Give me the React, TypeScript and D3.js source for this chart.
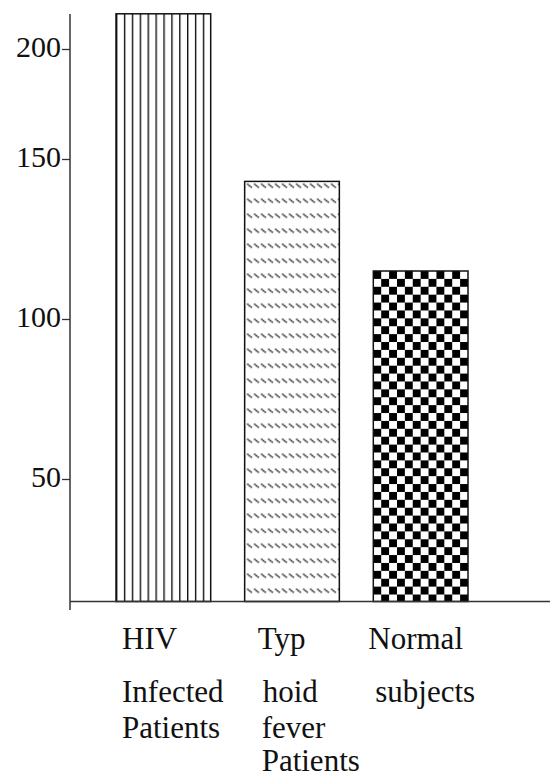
import React, { useEffect, useRef } from 'react';
import * as d3 from 'd3';

// ─── Data ───────────────────────────────────────────────────────────────────
const categories = ['HIV', 'Typhoid', 'Normal'];
const values = [216, 143, 115];
const tickValues = [50, 100, 150, 200];
const labelLines = [
    ['HIV', 'Infected', 'Patients'],
    ['Typ', 'hoid', 'fever', 'Patients'],
    ['Normal', 'subjects'],
];

// ─── Layout ─────────────────────────────────────────────────────────────────
const W = 550;
const H = 778;
const axisX = 70;
const baseY = 601.5;
const FONT = '"Liberation Serif", "Times New Roman", serif';
const lineBaselines = [649, 702, 738, 771];
const labelDx = [
    [6, 6, 6],
    [13, 18, 17, 17],
    [-5, 2],
];

const App: React.FC = () => {
    const ref = useRef<SVGSVGElement | null>(null);

    useEffect(() => {
        if (!ref.current) return;
        const svg = d3.select(ref.current);
        svg.selectAll('*').remove();

        // the printed scale is uneven: 50→150 is wider per unit than 150→200
        const y = d3.scaleLinear()
            .domain([0, 50, 150, 200])
            .range([baseY, 479, 159, 49]);

        const x = d3.scaleBand<string>()
            .domain(categories)
            .range([116, 468])
            .paddingInner(0.264)
            .paddingOuter(0);

        const bw = x.bandwidth();
        const defs = svg.append('defs');

        // vertical stripes
        const stripe = bw / 12;
        const pv = defs.append('pattern')
            .attr('id', 'vlines')
            .attr('patternUnits', 'userSpaceOnUse')
            .attr('x', x('HIV')!)
            .attr('y', 0)
            .attr('width', stripe)
            .attr('height', 10);
        pv.append('line')
            .attr('x1', 0.7).attr('x2', 0.7)
            .attr('y1', 0).attr('y2', 10)
            .attr('stroke', '#111')
            .attr('stroke-width', 1.4);

        // dotted back-slashes
        const pd = defs.append('pattern')
            .attr('id', 'dashes')
            .attr('patternUnits', 'userSpaceOnUse')
            .attr('x', x('Typhoid')! + 2)
            .attr('y', y(values[1]) + 2)
            .attr('width', 7)
            .attr('height', 15);
        pd.append('line')
            .attr('x1', 0.5).attr('y1', 0.5)
            .attr('x2', 5.5).attr('y2', 4.5)
            .attr('stroke', '#000')
            .attr('stroke-width', 1.4)
            .attr('stroke-dasharray', '1.6 0.6');

        // checkerboard
        const cell = bw / 12;
        const pc = defs.append('pattern')
            .attr('id', 'checker')
            .attr('patternUnits', 'userSpaceOnUse')
            .attr('x', x('Normal')!)
            .attr('y', y(values[2]))
            .attr('width', cell * 2)
            .attr('height', cell * 2);
        pc.append('rect').attr('width', cell * 2).attr('height', cell * 2).attr('fill', '#fff');
        pc.append('rect').attr('x', 0).attr('y', 0).attr('width', cell).attr('height', cell).attr('fill', '#000');
        pc.append('rect').attr('x', cell).attr('y', cell).attr('width', cell).attr('height', cell).attr('fill', '#000');

        const fills = ['url(#vlines)', 'url(#dashes)', 'url(#checker)'];

        svg.append('rect').attr('width', W).attr('height', H).attr('fill', '#fff');

        // ─── Bars ───────────────────────────────────────────────────────────
        svg.append('g')
            .selectAll('rect')
            .data(categories)
            .enter()
            .append('rect')
            .attr('x', d => x(d)!)
            .attr('y', (_, i) => y(values[i]))
            .attr('width', bw)
            .attr('height', (_, i) => baseY - y(values[i]))
            .attr('fill', (_, i) => fills[i])
            .attr('stroke', '#111')
            .attr('stroke-width', 1.5);

        // ─── Axes ───────────────────────────────────────────────────────────
        svg.append('line')
            .attr('x1', axisX).attr('x2', axisX)
            .attr('y1', 14).attr('y2', 610)
            .attr('stroke', '#333').attr('stroke-width', 1.5);
        svg.append('line')
            .attr('x1', axisX).attr('x2', W)
            .attr('y1', baseY).attr('y2', baseY)
            .attr('stroke', '#333').attr('stroke-width', 1.5);

        const yAxis = svg.append('g')
            .attr('transform', `translate(${axisX},0)`)
            .call(d3.axisLeft(y).tickValues(tickValues).tickSize(8).tickPadding(1));
        yAxis.select('.domain').remove();
        yAxis.selectAll('.tick line').attr('stroke', '#333').attr('stroke-width', 1.3);
        yAxis.selectAll('.tick text')
            .attr('fill', '#111')
            .attr('dy', '0.26em')
            .style('font-family', FONT)
            .style('font-size', '30px');

        // ─── Category labels ────────────────────────────────────────────────
        labelLines.forEach((lines, i) => {
            const g = svg.append('g');
            g.selectAll('text')
                .data(lines)
                .enter()
                .append('text')
                .attr('x', (_, j) => x(categories[i])! + labelDx[i][j])
                .attr('y', (_, j) => lineBaselines[j])
                .attr('fill', '#111')
                .style('font-family', FONT)
                .style('font-size', '31px')
                .text(d => d);
        });
    }, []);

    return (
        <svg
            ref={ref}
            width={W}
            height={H}
            style={{ position: 'absolute', left: 0, top: 0 }}
        />
    );
};

export default App;
